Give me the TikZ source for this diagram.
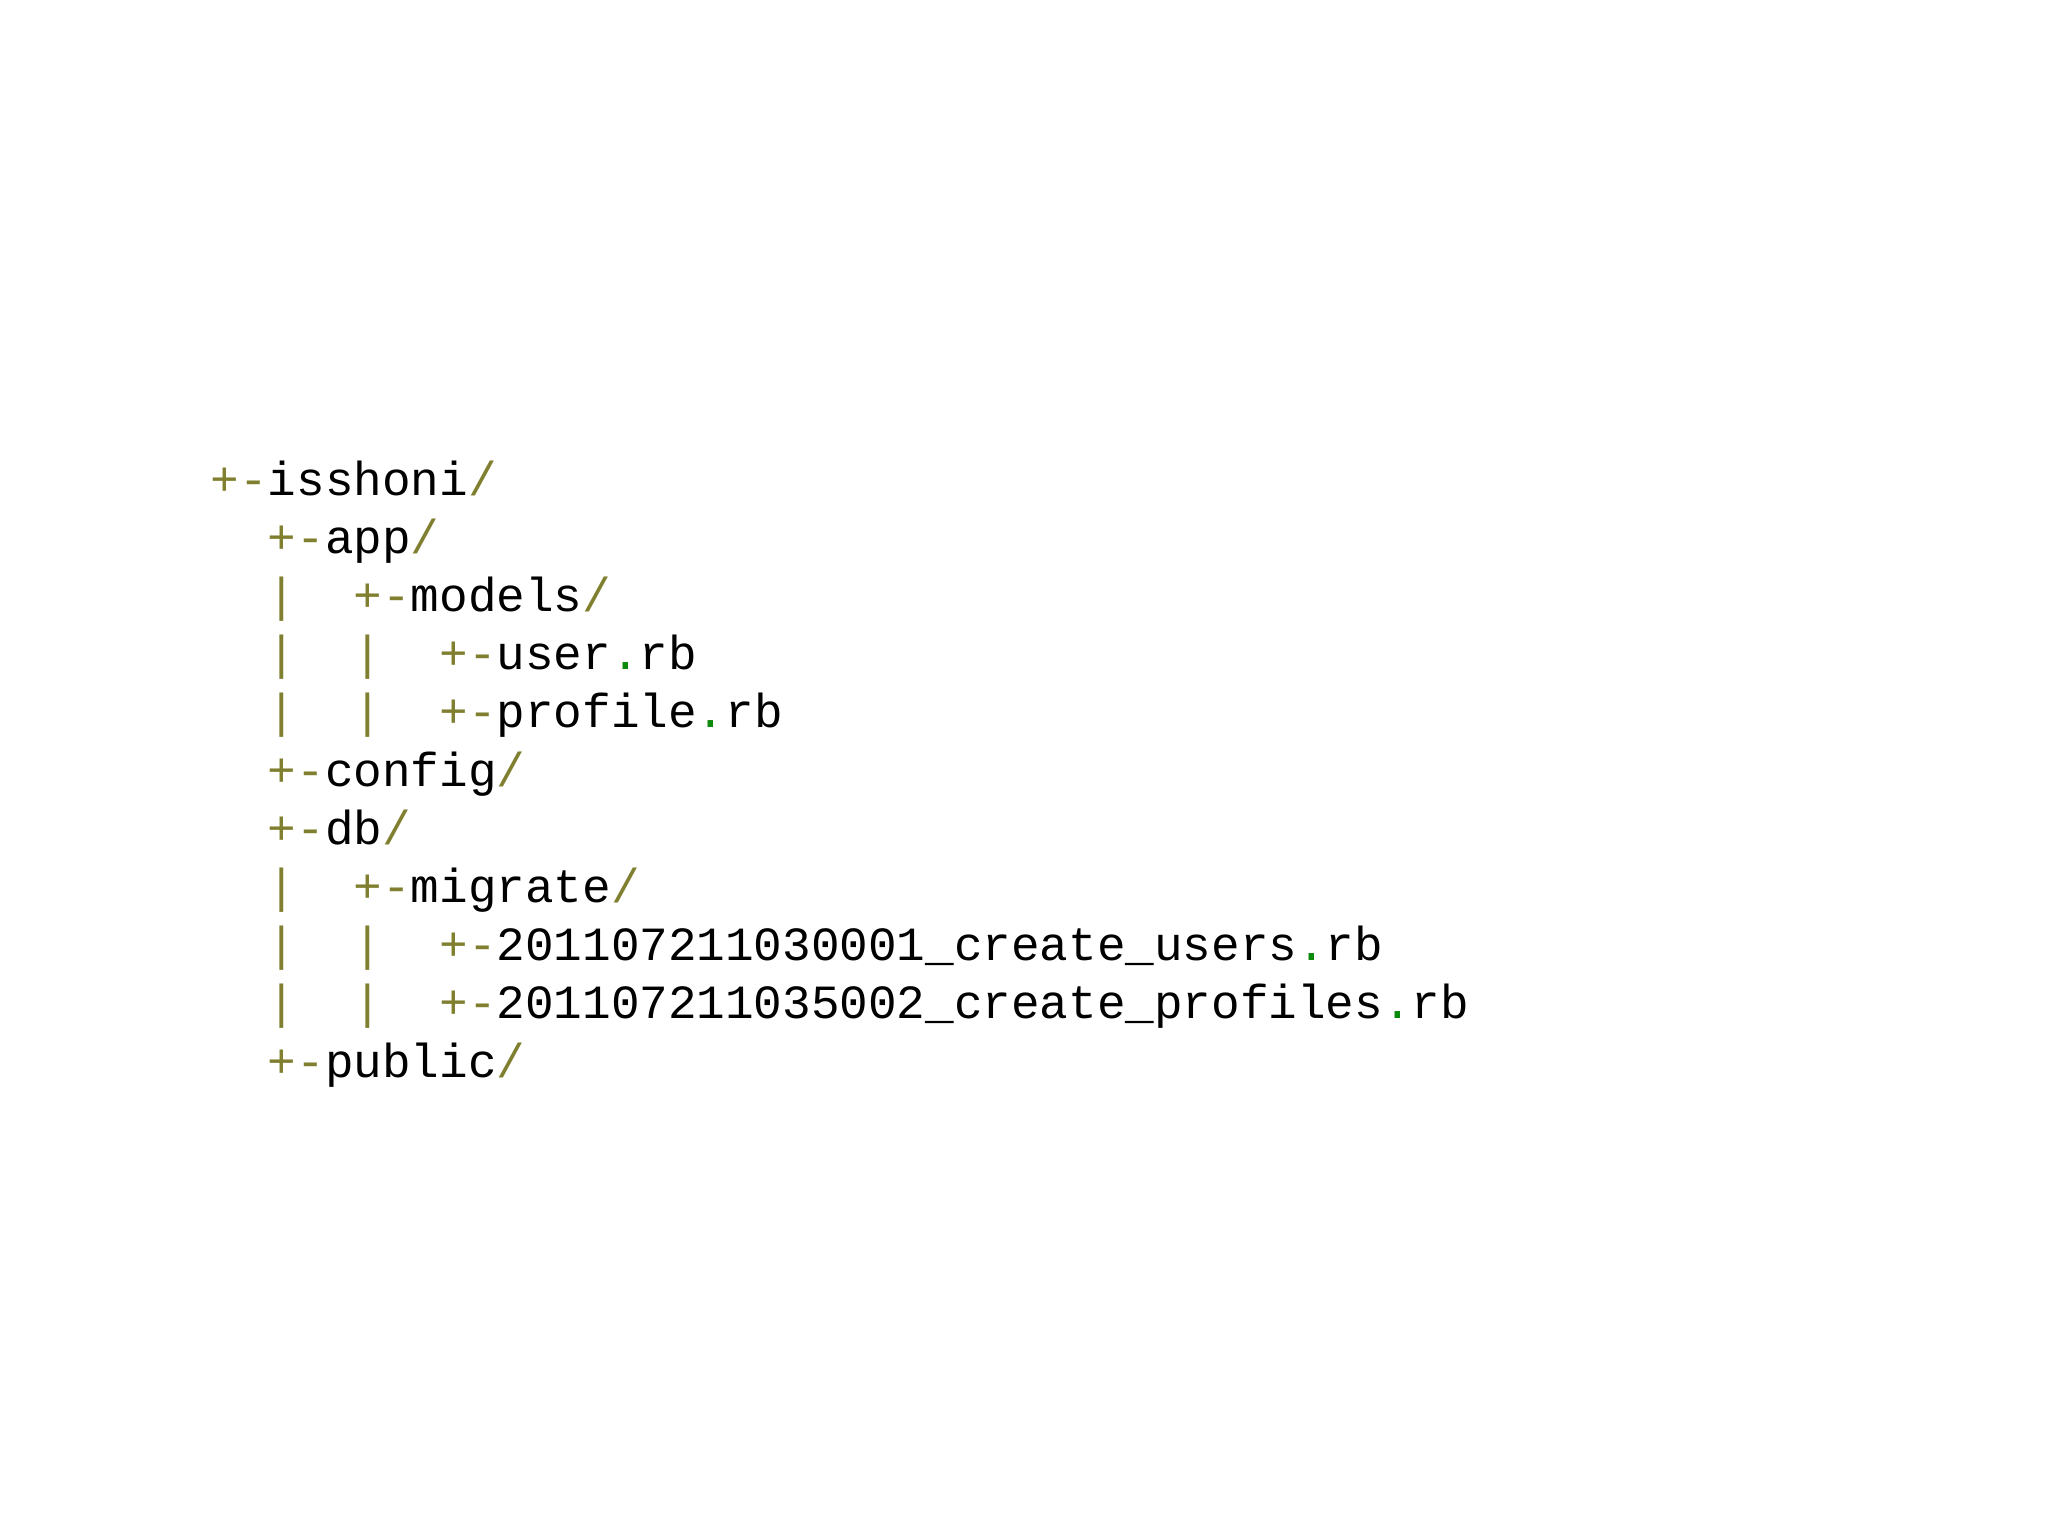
\documentclass[tikz,border=0pt]{standalone}
\usepackage{fontspec}
\setmonofont{Liberation Mono}
\definecolor{olv}{HTML}{7F7F2F}
\definecolor{grn}{HTML}{0A8A0A}
\newcommand{\p}[1]{\textcolor{olv}{#1}}
\newcommand{\g}{\textcolor{grn}{.}}
\begin{document}
\begin{tikzpicture}[x=0.01cm,y=-0.01cm,
  ln/.style={anchor=base west,inner sep=0pt,font=\fontsize{13.55pt}{16pt}\ttfamily\selectfont}]
\useasboundingbox (0,0) rectangle (2048,1536);
\node[ln] (l1) at (210,495) {\p{+-}isshoni\p{/}};
\node[ln] (l2) at (210,553.2) {\p{\ \ +-}app\p{/}};
\node[ln] (l3) at (210,611.4) {\p{\ \ |\ \ +-}models\p{/}};
\node[ln] (l4) at (210,669.6) {\p{\ \ |\ \ |\ \ +-}user\g rb};
\node[ln] (l5) at (210,727.8) {\p{\ \ |\ \ |\ \ +-}profile\g rb};
\node[ln] (l6) at (210,786) {\p{\ \ +-}config\p{/}};
\node[ln] (l7) at (210,844.2) {\p{\ \ +-}db\p{/}};
\node[ln] (l8) at (210,902.4) {\p{\ \ |\ \ +-}migrate\p{/}};
\node[ln] (l9) at (210,960.6) {\p{\ \ |\ \ |\ \ +-}201107211030001\_create\_users\g rb};
\node[ln] (l10) at (210,1018.8) {\p{\ \ |\ \ |\ \ +-}201107211035002\_create\_profiles\g rb};
\node[ln] (l11) at (210,1077) {\p{\ \ +-}public\p{/}};
\end{tikzpicture}
\end{document}
